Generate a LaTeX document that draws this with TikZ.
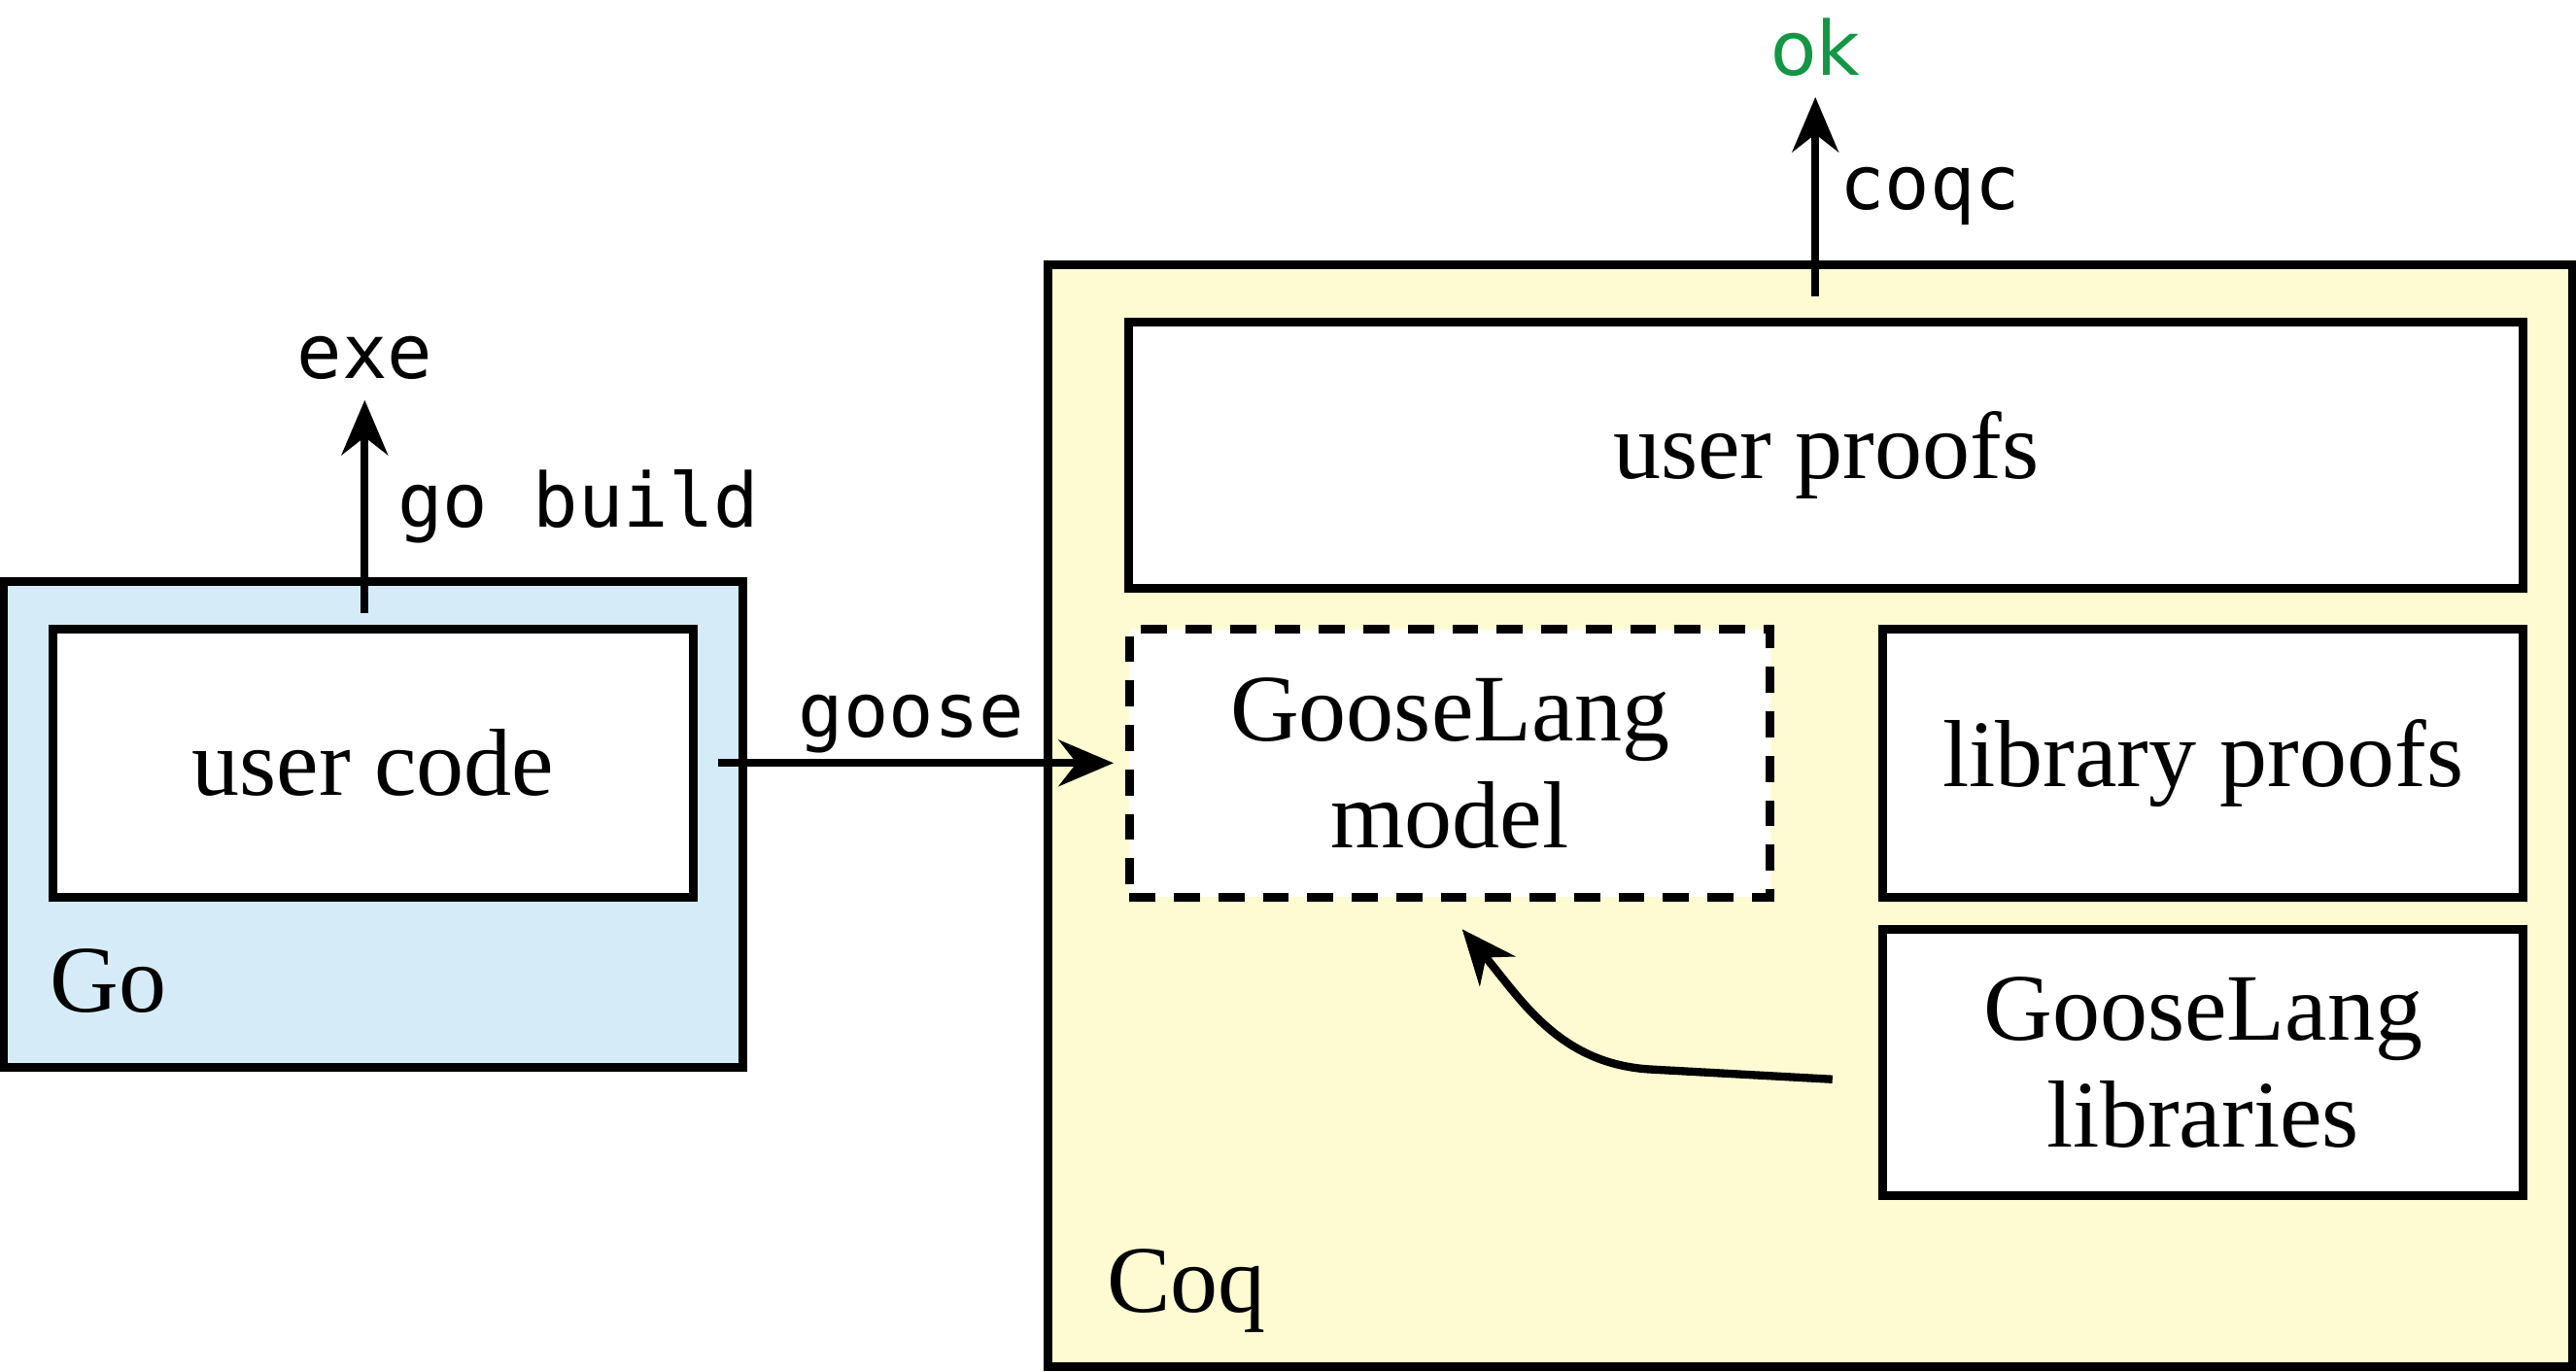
\documentclass[tikz,border=0pt]{standalone}
\usepackage{fontspec}
\setmainfont{Liberation Serif}
\setmonofont{DejaVu Sans Mono}
\newfontfamily\oksans{DejaVu Sans}
\usetikzlibrary{arrows.meta,positioning}
\definecolor{gofill}{RGB}{213,236,248}
\definecolor{coqfill}{RGB}{254,251,211}
\definecolor{okgreen}{RGB}{20,150,70}
\tikzstyle{region} = [rectangle, draw=black, line width=1.5pt, inner sep=0]
\tikzstyle{box} = [rectangle, draw=black, fill=white, line width=1.5pt, minimum width=3.9cm, minimum height=1.63cm, align=center, font=\fontsize{16.5}{18.5}\selectfont]
\tikzstyle{dashbox} = [box, dash pattern=on 4.5pt off 3.2pt]
\tikzstyle{tag} = [font=\fontsize{16.5}{18.5}\selectfont, anchor=base west, inner sep=0]
\tikzstyle{code} = [font=\ttfamily\fontsize{13}{15}\selectfont, inner sep=1pt]
\tikzstyle{output} = [font=\ttfamily\fontsize{13}{15}\selectfont]
\tikzstyle{arrow} = [line width=1.4pt,->,>={Stealth[length=9.5pt,width=8pt]}]

\begin{document}
\begin{tikzpicture}
\useasboundingbox (0,0) rectangle (15.68,8.35);
% Go side
\node[region,fill=gofill,minimum width=4.5cm,minimum height=2.96cm] (go) at (2.27,3.33) {};
\node[tag] (golabel) at (0.30,2.19) {Go};
\node[box] (usercode) at (2.27,3.705) {user code};
% Coq side
\node[region,fill=coqfill,minimum width=9.28cm,minimum height=6.71cm] (coq) at (11.02,3.385) {};
\node[tag] (coqlabel) at (6.73,0.36) {Coq};
\node[box,minimum width=8.49cm,minimum height=1.62cm] (userproofs) at (11.115,5.58) {user proofs};
\node[dashbox] (model) at (8.825,3.705) {GooseLang\\model};
\node[box] (libproofs) at (13.41,3.705) {library proofs};
\node[box,minimum height=1.62cm] (libs) at (13.41,1.88) {GooseLang\\libraries};
% outputs
\node[output] (exe) at (2.22,6.17) {exe};
\node[output,font=\oksans\fontsize{13}{15}\selectfont,text=okgreen] (ok) at (11.05,8.06) {ok};

\draw[arrow] ([yshift=2pt]usercode.north -| exe) -- node[code,right=4pt]{go build} (exe);
\draw[arrow] ([yshift=3.7pt]userproofs.north -| ok) -- node[code,right=2.5pt]{coqc} (ok);
\draw[arrow,shorten <=3.6pt,shorten >=2pt] (usercode) -- node[code,above]{goose} (model);
\draw[arrow] ([xshift=-0.28cm,yshift=-0.1cm]libs.west) -- ++(-1.1,0.06)
  to[out=177,in=-50] ([xshift=0.075cm,yshift=-0.17cm]model.south);
\end{tikzpicture}
\end{document}
